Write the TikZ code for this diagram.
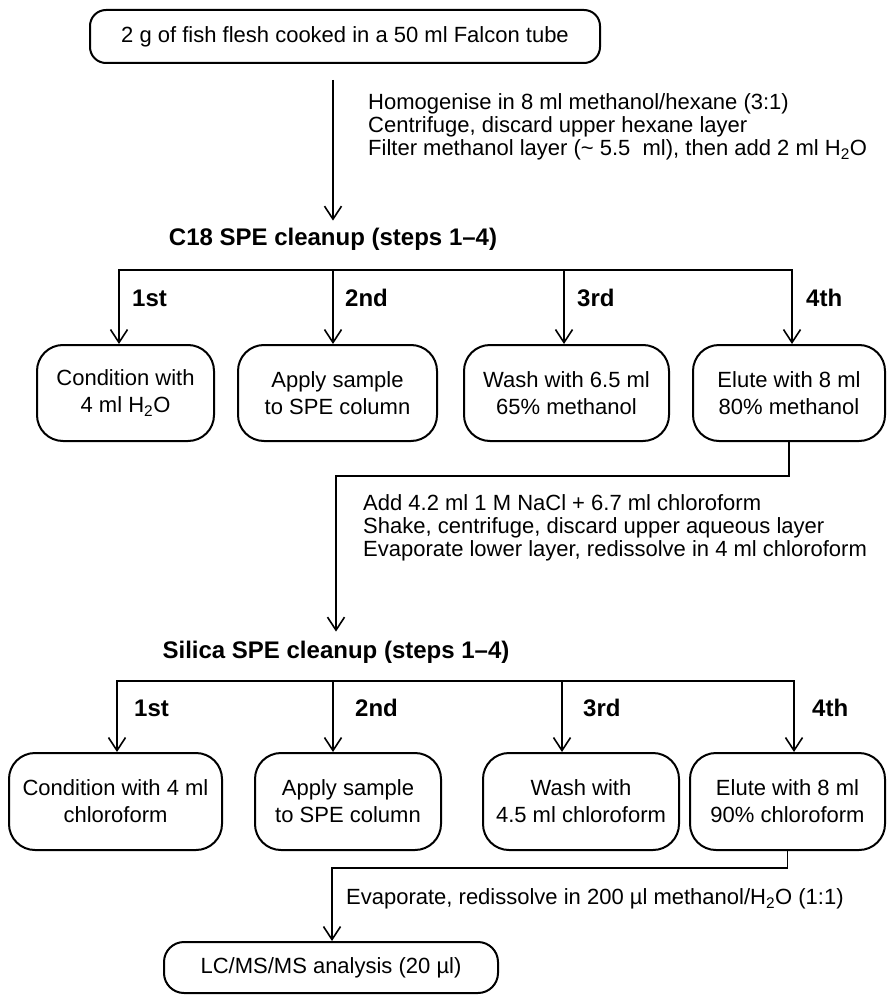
\documentclass[tikz,border=0pt]{standalone}
\usepackage{fontspec}
\setmainfont{Liberation Sans}
\usetikzlibrary{arrows.meta,calc}
\begin{document}
\begin{tikzpicture}[x=1pt,y=-1pt,
  conn/.style={line width=1.6pt},
  bar/.style={conn,line cap=rect},
  arr/.style={conn,-{Straight Barb[length=13pt,width=17pt,line width=1.6pt]}},
  box/.style={draw,line width=2pt,rounded corners=26pt,align=center,inner sep=0pt,
    font=\fontsize{22}{27}\selectfont},
  ttl/.style={inner sep=0pt,font=\fontsize{24}{28}\selectfont\bfseries},
  lbl/.style={inner sep=0pt,anchor=west,font=\fontsize{24}{28}\selectfont\bfseries},
  note/.style={inner sep=0pt,anchor=west,align=left,font=\fontsize{22}{23}\selectfont}]
\useasboundingbox (0,0) rectangle (887,995);

% top
\node[box,rounded corners=16pt,minimum width=510pt,minimum height=53pt] (top) at (345,36.5)
  {2 g of fish flesh cooked in a 50 ml Falcon tube};
\node[ttl] (t1) at (333,239) {C18 SPE cleanup (steps 1–4)};
\draw[arr,shorten <=16pt,shorten >=7pt] (t1.north |- top.south) -- (t1.north);
\node[note] (n1) at (368,127) {Homogenise in 8 ml methanol/hexane (3:1)\\
  Centrifuge, discard upper hexane layer\\
  Filter methanol layer (\textasciitilde{} 5.5\ \ ml), then add 2 ml H\textsubscript{2}O};

% C18 row
\node[box,minimum width=177pt,minimum height=96pt] (c1) at (125.5,393) {Condition with\\4 ml H\textsubscript{2}O};
\node[box,minimum width=199pt,minimum height=96pt] (c2) at (337.5,393) {Apply sample\\to SPE column};
\node[box,minimum width=205pt,minimum height=96pt] (c3) at (566.5,393) {Wash with 6.5 ml\\65\% methanol};
\node[box,minimum width=192pt,minimum height=96pt] (c4) at (789,393) {Elute with 8 ml\\80\% methanol};

\coordinate (a1) at (119,270);
\coordinate (a2) at (333,270);
\coordinate (a3) at (564,270);
\coordinate (a4) at (792,270);
\draw[bar] (a1) -- (a4);
\draw[arr] (a1) -- (a1 |- c1.north);
\draw[arr] (a2) -- (a2 |- c2.north);
\draw[arr] (a3) -- (a3 |- c3.north);
\draw[arr] (a4) -- (a4 |- c4.north);
\node[lbl] (l1) at (132,298) {1st};
\node[lbl] (l2) at (345,298) {2nd};
\node[lbl] (l3) at (577,298) {3rd};
\node[lbl] (l4) at (806,298) {4th};

% to silica
\node[ttl] (t2) at (336,652) {Silica SPE cleanup (steps 1–4)};
\coordinate (k1) at (336,476);
\draw[arr,shorten >=9pt] (c4.south) |- (k1) -- (t2.north);
\node[note] (n2) at (363,528) {Add 4.2 ml 1 M NaCl + 6.7 ml chloroform\\
  Shake, centrifuge, discard upper aqueous layer\\
  Evaporate lower layer, redissolve in 4 ml chloroform};

% silica row
\node[box,minimum width=213pt,minimum height=97pt] (s1) at (115.5,801.5) {Condition with 4 ml\\chloroform};
\node[box,minimum width=186pt,minimum height=97pt] (s2) at (348,801.5) {Apply sample\\to SPE column};
\node[box,minimum width=196pt,minimum height=97pt] (s3) at (581,801.5) {Wash with\\4.5 ml chloroform};
\node[box,minimum width=195pt,minimum height=97pt] (s4) at (787.5,801.5) {Elute with 8 ml\\90\% chloroform};

\coordinate (d1) at (117,681);
\coordinate (d2) at (333,681);
\coordinate (d3) at (562,681);
\coordinate (d4) at (794,681);
\draw[bar] (d1) -- (d4);
\draw[arr] (d1) -- (d1 |- s1.north);
\draw[arr] (d2) -- (d2 |- s2.north);
\draw[arr] (d3) -- (d3 |- s3.north);
\draw[arr] (d4) -- (d4 |- s4.north);
\node[lbl] (m1) at (134,708) {1st};
\node[lbl] (m2) at (355,708) {2nd};
\node[lbl] (m3) at (583,708) {3rd};
\node[lbl] (m4) at (812,708) {4th};

% final
\node[box,rounded corners=20pt,minimum width=334pt,minimum height=51pt] (lc) at (331,967.5)
  {LC/MS/MS analysis (20 µl)};
\coordinate (k2) at (332,868);
\draw[arr] (s4.south) |- (k2) -- (k2 |- lc.north);
\node[note] (n3) at (346,899) {Evaporate, redissolve in 200 µl methanol/H\textsubscript{2}O (1:1)};
\end{tikzpicture}
\end{document}
